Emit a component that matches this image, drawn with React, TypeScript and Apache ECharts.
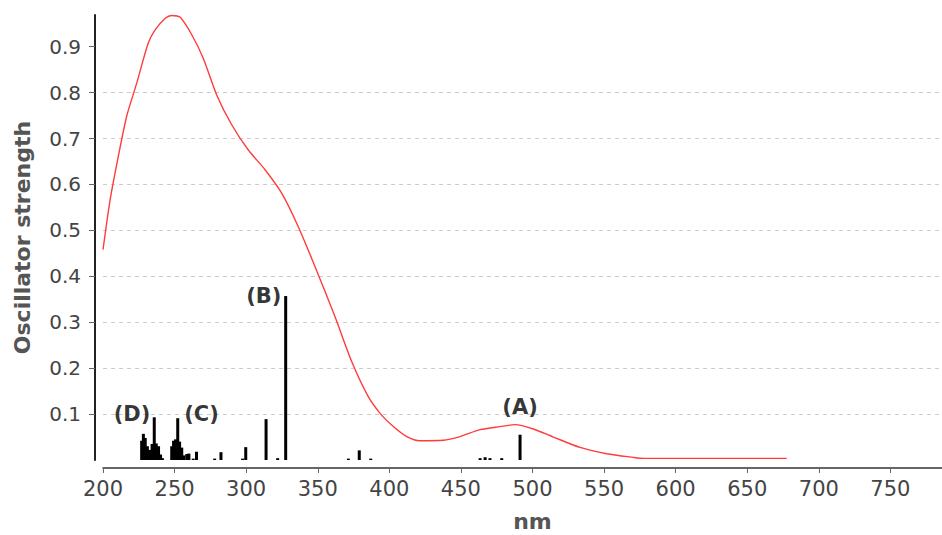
import React, { useEffect, useRef } from "react";
import * as echarts from "echarts";

// Spectrum curve (nm, oscillator strength)
const curveNm = [200, 205, 210.7, 216.5, 223.5, 231.6, 236.3, 243.5, 248, 253.9, 262, 270, 279.4, 289.9, 301.5, 313.2, 324.8, 336.4, 348.1, 362, 373.7, 385.3, 394, 402.8, 412.2, 421.4, 437.7, 449.4, 463.4, 477.3, 487.8, 500.6, 514.6, 533.2, 551.8, 570.4, 577.4, 677.6];
const curveF = [0.458, 0.567, 0.661, 0.748, 0.82, 0.908, 0.936, 0.962, 0.968, 0.964, 0.926, 0.875, 0.795, 0.73, 0.675, 0.632, 0.581, 0.508, 0.421, 0.3125, 0.2146, 0.138, 0.1, 0.073, 0.051, 0.042, 0.043, 0.051, 0.066, 0.0727, 0.077, 0.0675, 0.05, 0.0274, 0.0137, 0.0057, 0.0035, 0.0035];

// Stick spectrum (transitions)
const stickNm = [227.0, 228.2, 229.5, 231.0, 232.5, 234.3, 235.8, 237.2, 238.8, 240.2, 241.5, 248.0, 249.3, 250.7, 252.2, 253.5, 255.0, 256.5, 258.5, 260.0, 263.0, 265.3, 278.0, 282.4, 297.5, 299.7, 313.9, 322.0, 327.6, 371.4, 379.0, 387.0, 463.4, 466.9, 470.3, 478.5, 491.3];
const stickF = [0.042, 0.057, 0.048, 0.03, 0.022, 0.035, 0.093, 0.036, 0.03, 0.012, 0.004, 0.03, 0.042, 0.045, 0.091, 0.04, 0.027, 0.01, 0.013, 0.014, 0.003, 0.018, 0.003, 0.017, 0.003, 0.028, 0.089, 0.004, 0.357, 0.003, 0.021, 0.003, 0.004, 0.006, 0.004, 0.004, 0.055];

// Annotations
const annotLabels = ["(A)", "(B)", "(C)", "(D)"];
const annotNm = [491.3, 312.3, 268.8, 220.3];
const annotF = [0.116, 0.357, 0.101, 0.101];

const yTicks = [0.1, 0.2, 0.3, 0.4, 0.5, 0.6, 0.7, 0.8, 0.9];
const xMin = 200;
const xMax = 800;
const yMax = 0.969;

const FONT = "DejaVu Sans";

export default function App() {
  const ref = useRef<HTMLDivElement>(null);
  useEffect(() => {
    document.body.style.margin = "0";
    if (!ref.current) return;
    const chart = echarts.init(ref.current, null, { renderer: "svg" });
    chart.setOption({
      animation: false,
      backgroundColor: "#ffffff",
      grid: { left: 103, right: -20, top: 15, bottom: 75, containLabel: false, outerBoundsMode: "none" },
      xAxis: {
        type: "value",
        min: xMin,
        max: xMax,
        interval: 50,
        offset: 8,
        name: "nm",
        nameLocation: "middle",
        nameGap: 42,
        nameTextStyle: { fontFamily: FONT, fontSize: 22, fontWeight: "bold", color: "#555" },
        axisLine: { show: true, onZero: false, lineStyle: { color: "#333", width: 1.5 } },
        axisTick: { show: true, length: 5, lineStyle: { color: "#666", width: 1 } },
        axisLabel: { fontFamily: FONT, fontSize: 21, color: "#444", margin: 10, showMaxLabel: false },
        splitLine: { show: false },
      },
      yAxis: {
        type: "value",
        min: 0,
        max: yMax,
        interval: 0.1,
        offset: 8,
        name: "Oscillator strength",
        nameLocation: "middle",
        nameGap: 62,
        nameTextStyle: { fontFamily: FONT, fontSize: 22, fontWeight: "bold", color: "#555" },
        axisLine: { show: true, lineStyle: { color: "#222", width: 2 } },
        axisTick: { show: true, length: 6, customValues: yTicks, lineStyle: { color: "#666", width: 1 } },
        axisLabel: {
          fontFamily: FONT,
          fontSize: 20,
          color: "#444",
          margin: 14,
          customValues: yTicks,
          formatter: (v: number) => v.toFixed(1),
        },
        splitLine: { show: true, showMaxLine: false, lineStyle: { color: "#cccccc", type: [4, 4], width: 1 } },
      },
      series: [
        {
          type: "bar",
          data: stickNm.map((x, i) => [x, stickF[i]]),
          barWidth: 3,
          itemStyle: { color: "#000" },
          silent: true,
          z: 2,
        },
        {
          type: "line",
          data: curveNm.map((x, i) => [x, curveF[i]]),
          showSymbol: false,
          symbol: "none",
          smooth: 0.25,
          lineStyle: { color: "#ff3b3b", width: 1.4 },
          z: 3,
        },
        {
          type: "scatter",
          symbolSize: 0,
          data: annotNm.map((x, i) => ({ name: annotLabels[i], value: [x, annotF[i]] })),
          label: {
            show: true,
            position: "inside",
            formatter: (p: any) => p.name,
            fontFamily: FONT,
            fontSize: 21,
            fontWeight: "bold",
            color: "#000",
          },
          z: 4,
        },
      ],
    });
    return () => chart.dispose();
  }, []);
  return <div ref={ref} style={{ position: "fixed", left: 0, top: 0, width: 942, height: 535 }} />;
}
